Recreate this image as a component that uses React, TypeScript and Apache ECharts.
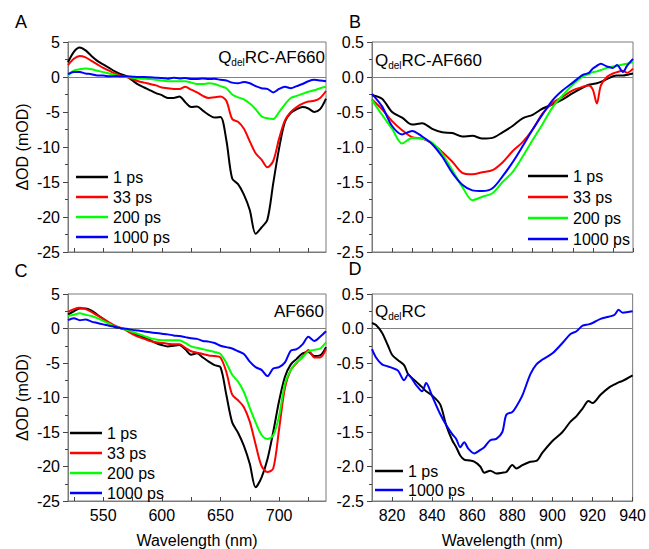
import React, { useEffect, useRef } from "react";
import * as echarts from "echarts";

// ---------- DATA ----------
const delays = ["1 ps", "33 ps", "200 ps", "1000 ps"];
const colors = ["#000000", "#ff0000", "#00ff00", "#0000ff"];

// Panels A and C share the visible wavelength grid (nm)
const wlVis = [520,525,530,535,540,545,550,555,560,565,570,575,580,585,590,595,600,605,610,615,620,625,630,635,640,645,650,655,660,665,670,675,680,685,690,695,700,705,710,715,720,725,730,735,740];

// Panel A: QdelRC-AF660 (mOD)
const a1ps = [2.1,3.6,4.2,3.8,3.0,2.3,1.8,1.3,0.8,0.4,0.1,-0.5,-1.1,-1.5,-1.9,-2.3,-2.6,-3.0,-3.0,-2.8,-3.6,-4.3,-4.2,-4.8,-5.4,-5.8,-5.7,-9.0,-14.5,-15.3,-16.8,-19.0,-22.4,-21.5,-20.4,-15.2,-10.2,-6.4,-5.1,-4.6,-4.3,-4.5,-5.0,-4.6,-3.1];
const a33ps = [1.7,2.6,3.0,2.8,2.3,1.8,1.3,0.9,0.5,0.2,0.0,-0.3,-0.6,-0.8,-1.0,-1.2,-1.5,-1.6,-1.7,-1.7,-1.4,-1.8,-2.2,-2.7,-3.0,-2.9,-2.8,-3.4,-6.0,-6.4,-7.4,-9.2,-10.9,-11.8,-12.9,-12.0,-8.8,-6.2,-5.0,-4.3,-3.8,-3.5,-3.4,-3.0,-2.0];
const a200ps = [0.2,0.9,1.1,1.2,1.1,0.9,0.7,0.5,0.3,0.1,0.0,-0.1,-0.2,-0.25,-0.3,-0.4,-0.5,-0.6,-0.6,-0.6,-0.6,-0.8,-1.0,-1.0,-0.9,-1.0,-1.3,-1.6,-2.5,-2.9,-3.2,-3.8,-4.6,-5.6,-5.9,-6.0,-5.0,-3.9,-3.0,-2.7,-2.4,-2.1,-1.9,-1.6,-1.4];
const a1000ps = [0.4,0.7,0.7,0.5,0.4,0.2,0.2,0.1,0.15,0.1,0.1,0.05,0.0,0.0,-0.05,-0.1,-0.15,-0.25,-0.1,-0.2,-0.15,-0.3,-0.3,-0.2,-0.3,-0.25,-0.4,-0.5,-0.8,-0.9,-0.7,-0.9,-1.3,-1.6,-1.7,-2.2,-1.7,-1.4,-1.6,-1.3,-1.0,-0.6,-0.4,-0.5,-0.6];

// Panel C: AF660 (mOD)
const c1ps = [2.0,2.5,2.9,2.9,2.6,2.0,1.4,0.8,0.2,0.05,-0.2,-0.6,-1.0,-1.3,-1.7,-2.1,-2.4,-2.6,-2.5,-2.4,-3.0,-3.8,-3.6,-4.2,-4.8,-5.3,-5.6,-9.6,-13.6,-15.1,-17.0,-19.6,-23.0,-21.6,-19.0,-15.0,-10.5,-7.0,-5.2,-4.4,-3.6,-3.4,-4.0,-3.9,-2.7];
const c33ps = [2.4,2.8,3.0,2.8,2.4,1.9,1.4,0.9,0.4,0.1,-0.3,-0.8,-1.2,-1.5,-1.8,-2.0,-2.1,-2.2,-2.3,-2.3,-2.8,-3.3,-3.5,-3.7,-3.9,-4.0,-4.2,-6.3,-9.6,-10.4,-11.4,-13.5,-16.8,-19.9,-20.8,-20.3,-14.6,-8.6,-6.0,-5.0,-4.1,-3.1,-4.2,-4.2,-3.0];
const c200ps = [1.8,2.0,2.2,2.0,1.8,1.5,1.1,0.7,0.3,0.05,-0.2,-0.5,-0.8,-1.1,-1.4,-1.6,-1.7,-1.7,-1.7,-1.7,-2.1,-2.6,-2.8,-3.0,-3.2,-3.4,-3.7,-5.0,-6.7,-7.7,-9.2,-11.5,-13.6,-15.4,-16.0,-15.5,-12.7,-8.0,-6.0,-4.9,-4.2,-3.3,-3.1,-2.9,-2.0];
const c1000ps = [1.2,1.5,1.2,1.3,1.0,0.8,0.6,0.4,0.25,0.05,-0.05,-0.2,-0.3,-0.45,-0.55,-0.65,-0.75,-0.85,-1.0,-1.1,-1.25,-1.4,-1.5,-1.8,-1.9,-2.1,-2.5,-2.7,-2.9,-3.3,-3.7,-4.8,-5.6,-6.0,-6.9,-5.8,-5.6,-4.9,-3.2,-3.0,-2.3,-1.2,-1.8,-1.2,-0.4];

// Panel B: QdelRC-AF660, near-IR (mOD)
const wlB = [810,815,820,825,830,835,840,845,850,855,860,865,870,875,880,885,890,895,900,905,910,915,918,920,922,924,927,930,932,935,937,940];
const b1ps = [-0.26,-0.31,-0.50,-0.58,-0.68,-0.66,-0.74,-0.79,-0.80,-0.85,-0.84,-0.88,-0.87,-0.79,-0.70,-0.59,-0.54,-0.45,-0.39,-0.32,-0.23,-0.15,-0.11,-0.10,-0.09,-0.07,-0.03,0.01,0.02,0.02,0.03,0.05];
const b33ps = [-0.32,-0.46,-0.63,-0.76,-0.86,-0.88,-0.95,-1.07,-1.21,-1.37,-1.39,-1.36,-1.33,-1.22,-1.06,-0.93,-0.75,-0.52,-0.37,-0.28,-0.19,-0.14,-0.12,-0.18,-0.38,-0.12,0.00,0.05,0.07,0.09,0.06,0.12];
const b200ps = [-0.33,-0.54,-0.74,-0.95,-0.87,-0.88,-0.94,-1.10,-1.33,-1.57,-1.76,-1.71,-1.66,-1.50,-1.36,-1.14,-0.90,-0.67,-0.43,-0.26,-0.11,0.01,0.04,0.07,0.08,0.10,0.13,0.15,0.16,0.18,0.19,0.21];
const b1000ps = [-0.24,-0.42,-0.70,-0.82,-0.77,-0.85,-0.96,-1.14,-1.37,-1.54,-1.62,-1.63,-1.59,-1.42,-1.22,-0.99,-0.75,-0.53,-0.33,-0.19,-0.08,0.03,0.06,0.12,0.16,0.19,0.15,0.13,0.17,0.07,0.16,0.26];

// Panel D: QdelRC (mOD)
const wlD = [810,812,815,818,820,823,826,828,832,835,837,840,844,847,850,852,854,856,858,861,864,866,869,872,875,877,880,882,885,889,892,895,900,905,909,912,915,918,920,924,928,931,933,935,940];
const d1ps = [0.08,0.05,-0.06,-0.25,-0.38,-0.46,-0.53,-0.66,-0.77,-0.85,-0.91,-0.97,-1.10,-1.40,-1.62,-1.72,-1.84,-1.90,-1.91,-1.93,-2.00,-2.09,-2.06,-2.10,-2.09,-2.08,-1.98,-2.03,-1.98,-1.93,-1.92,-1.80,-1.63,-1.50,-1.35,-1.27,-1.16,-1.05,-1.08,-0.96,-0.86,-0.81,-0.78,-0.76,-0.68];
const d1000ps = [-0.30,-0.42,-0.52,-0.55,-0.57,-0.61,-0.75,-0.67,-0.82,-0.91,-0.79,-0.98,-1.24,-1.40,-1.53,-1.60,-1.72,-1.65,-1.74,-1.81,-1.76,-1.72,-1.62,-1.60,-1.50,-1.25,-1.21,-1.13,-0.97,-0.66,-0.52,-0.45,-0.36,-0.21,-0.08,-0.04,0.04,0.06,0.08,0.14,0.17,0.20,0.27,0.23,0.25];

// Axis tick values
const visTicks = [525,550,575,600,625,650,675,700,725];
const visLabels = [550,600,650,700];
const nirTicks = [820,830,840,850,860,870,880,890,900,910,920,930,940];
const nirLabels = [820,840,860,880,900,920,940];

// ---------- CHART ----------
const FONT = "'Liberation Sans', Arial, Helvetica, sans-serif";
const FRAME = "#7a7a7a";

const zip = (xs: number[], ys: number[]) => xs.map((x, i) => [x, ys[i]]);

function makeX(idx: number, min: number, max: number, ticks: number[], labels: number[], showLabels: boolean) {
  return {
    type: "value",
    gridIndex: idx,
    min,
    max,
    name: showLabels ? "Wavelength (nm)" : "",
    nameLocation: "middle",
    nameGap: 31,
    nameTextStyle: { fontSize: 16, color: "#000", fontFamily: FONT },
    axisLine: { show: true, onZero: false, lineStyle: { color: FRAME, width: 1 } },
    axisTick: { show: true, inside: true, length: 4, customValues: ticks, lineStyle: { color: "#444", width: 1 } },
    axisLabel: { show: showLabels, customValues: labels, fontSize: 16, color: "#000", fontFamily: FONT, margin: 6 },
    splitLine: { show: false },
  };
}

function makeY(idx: number, min: number, max: number, interval: number, showName: boolean, fmt?: (v: number) => string) {
  return {
    type: "value",
    gridIndex: idx,
    min,
    max,
    interval,
    name: showName ? "ΔOD (mOD)" : "",
    nameLocation: "middle",
    nameGap: 38,
    nameTextStyle: { fontSize: 16, color: "#000", fontFamily: FONT },
    axisLine: { show: true, lineStyle: { color: FRAME, width: 1 } },
    axisTick: { show: true, inside: false, length: 5, lineStyle: { color: "#444", width: 1 } },
    minorTick: { show: true, splitNumber: 2, length: 3, lineStyle: { color: "#444", width: 1 } },
    axisLabel: { fontSize: 16, color: "#000", fontFamily: FONT, margin: 8, formatter: fmt },
    splitLine: { show: false },
    minorSplitLine: { show: false },
  };
}

function makeSeries(idx: number, wl: number[], sets: number[][], colorIdx: number[]) {
  return sets.map((vals, k) => ({
    type: "line",
    name: delays[colorIdx[k]],
    xAxisIndex: idx,
    yAxisIndex: idx,
    data: zip(wl, vals),
    showSymbol: false,
    smooth: 0.3,
    lineStyle: { color: colors[colorIdx[k]], width: 2 },
    itemStyle: { color: colors[colorIdx[k]] },
    z: 3 + k,
    markLine: k === 0
      ? {
          silent: true,
          symbol: "none",
          label: { show: false },
          lineStyle: { color: "#808080", width: 1, type: "solid" },
          data: [{ yAxis: 0 }],
          z: 2,
        }
      : undefined,
  }));
}

function makeLegend(left: number, top: number, names: string[], itemWidth: number, gap: number) {
  return {
    orient: "vertical",
    left,
    top,
    padding: 0,
    icon: "rect",
    itemWidth,
    itemHeight: 2.5,
    itemGap: gap,
    selectedMode: false,
    data: names,
    textStyle: { fontSize: 16, lineHeight: 16, color: "#000", fontFamily: FONT },
  };
}

function label(text: string, x: number, y: number, align: string) {
  return {
    type: "text",
    x,
    y,
    style: {
      text,
      align,
      textAlign: align,
      verticalAlign: "middle",
      textVerticalAlign: "middle",
      fill: "#000",
      rich: {
        m: { fontSize: 17, fontFamily: FONT, fill: "#000", color: "#000", lineHeight: 20 },
        s: { fontSize: 10, fontFamily: FONT, fill: "#000", color: "#000", lineHeight: 20, verticalAlign: "bottom" },
      },
    },
  };
}

function letter(text: string, x: number, y: number) {
  return {
    type: "text",
    x,
    y,
    style: { text, fontSize: 18, fontFamily: FONT, fill: "#000", align: "center", textAlign: "center", verticalAlign: "middle", textVerticalAlign: "middle" },
  };
}

const fmt1 = (v: number) => v.toFixed(1);

export default function App() {
  const ref = useRef<HTMLDivElement>(null);
  useEffect(() => {
    if (!ref.current) return;
    const chart = echarts.init(ref.current, null, { renderer: "svg" });
    const gridStyle = { show: true, borderColor: FRAME, borderWidth: 1, backgroundColor: "transparent", containLabel: false };
    const option = {
      animation: false,
      backgroundColor: "#ffffff",
      grid: [
        { ...gridStyle, left: 68, top: 42, width: 258, height: 210 },
        { ...gridStyle, left: 372, top: 42, width: 261, height: 210 },
        { ...gridStyle, left: 68, top: 294, width: 258, height: 211 },
        { ...gridStyle, left: 372, top: 294, width: 261, height: 211 },
      ],
      xAxis: [
        makeX(0, 520, 740, visTicks, visLabels, false),
        makeX(1, 810, 940, nirTicks, nirLabels, false),
        makeX(2, 520, 740, visTicks, visLabels, true),
        makeX(3, 810, 940, nirTicks, nirLabels, true),
      ],
      yAxis: [
        makeY(0, -25, 5, 5, true),
        makeY(1, -2.5, 0.5, 0.5, false, fmt1),
        makeY(2, -25, 5, 5, true),
        makeY(3, -2.5, 0.5, 0.5, false, fmt1),
      ],
      legend: [
        makeLegend(76, 169, delays, 32, 4),
        makeLegend(528, 168, delays, 40, 5),
        makeLegend(70, 425, delays, 32, 4),
        makeLegend(375, 463, ["1 ps", "1000 ps"], 28, 3),
      ],
      series: [
        ...makeSeries(0, wlVis, [a1ps, a33ps, a200ps, a1000ps], [0, 1, 2, 3]),
        ...makeSeries(1, wlB, [b1ps, b33ps, b200ps, b1000ps], [0, 1, 2, 3]),
        ...makeSeries(2, wlVis, [c1ps, c33ps, c200ps, c1000ps], [0, 1, 2, 3]),
        ...makeSeries(3, wlD, [d1ps, d1000ps], [0, 3]),
      ],
      graphic: [
        letter("A", 21, 22),
        letter("B", 355, 22),
        letter("C", 21, 271),
        letter("D", 355, 269),
        label("{m|Q}{s|del}{m|RC-AF660}", 325, 57, "right"),
        label("{m|Q}{s|del}{m|RC-AF660}", 375, 60, "left"),
        label("{m|AF660}", 324, 311, "right"),
        label("{m|Q}{s|del}{m|RC}", 375, 311, "left"),
      ],
    };
    chart.setOption(option as any);
    return () => chart.dispose();
  }, []);
  return <div ref={ref} style={{ position: "absolute", left: 0, top: 0, width: 649, height: 549 }} />;
}
